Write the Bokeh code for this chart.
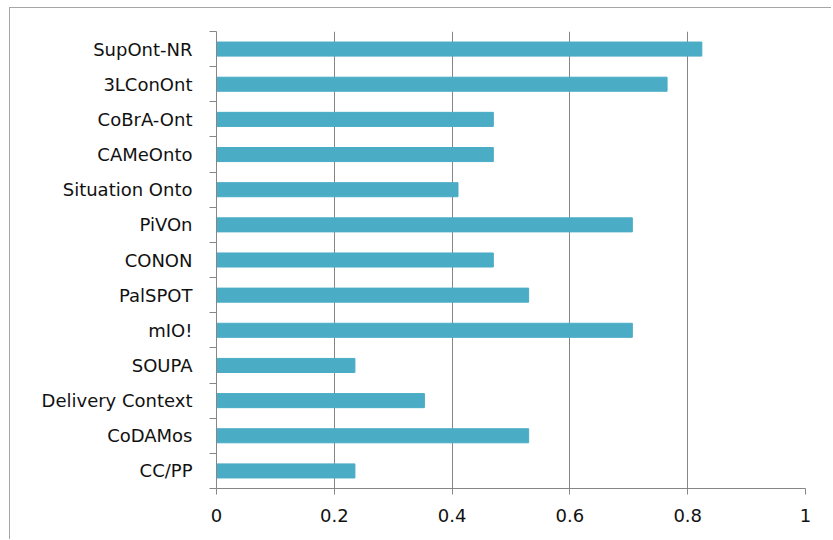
from bokeh.plotting import figure
from bokeh.models import FixedTicker, Range1d
from bokeh.embed import file_html
from bokeh.resources import INLINE

# Data (bottom to top)
categories = ["CC/PP", "CoDAMos", "Delivery Context", "SOUPA", "mIO!", "PalSPOT",
              "CONON", "PiVOn", "Situation Onto", "CAMeOnto", "CoBrA-Ont",
              "3LConOnt", "SupOnt-NR"]
values = [0.235, 0.53, 0.353, 0.235, 0.706, 0.53, 0.47, 0.706, 0.41, 0.47, 0.47, 0.765, 0.824]
x_ticks = [0, 0.2, 0.4, 0.6, 0.8, 1]
x_tick_labels = ["0", "0.2", "0.4", "0.6", "0.8", "1"]

FONT = "DejaVu Sans"
GRAY = "#868686"

positions = list(range(len(categories)))

p = figure(width=822, height=532, output_backend="svg", toolbar_location=None,
           x_range=Range1d(0, 1), y_range=Range1d(-0.5, len(categories) - 0.5),
           min_border_left=206, min_border_right=27, min_border_top=23, min_border_bottom=52)
p.styles = {"border-left": "1px solid #a6a6a6", "border-top": "1px solid #a6a6a6",
            "margin-left": "9px", "margin-top": "7px"}
p.outline_line_color = None

p.hbar(y=positions, right=values, left=0, height=0.4, color="#4BACC6")

# x axis
p.xaxis.ticker = FixedTicker(ticks=x_ticks)
p.xaxis.major_label_overrides = {t: l for t, l in zip(x_ticks, x_tick_labels)}
p.xaxis.axis_line_color = GRAY
p.xaxis.major_tick_line_color = GRAY
p.xaxis.major_tick_out = 6
p.xaxis.major_tick_in = 0
p.xaxis.minor_tick_line_color = None
p.xaxis.major_label_standoff = 14
p.xaxis.major_label_text_font = FONT
p.xaxis.major_label_text_font_size = "18px"
p.xaxis.major_label_text_color = "#111111"

# y axis: labels at centers, ticks between categories
p.yaxis.ticker = FixedTicker(ticks=positions,
                             minor_ticks=[i - 0.5 for i in range(len(categories) + 1)])
p.yaxis.major_label_overrides = {i: c for i, c in zip(positions, categories)}
p.yaxis.axis_line_color = GRAY
p.yaxis.major_tick_line_color = None
p.yaxis.major_tick_out = 0
p.yaxis.major_tick_in = 0
p.yaxis.minor_tick_line_color = GRAY
p.yaxis.minor_tick_out = 7
p.yaxis.minor_tick_in = 0
p.yaxis.major_label_standoff = 17
p.yaxis.major_label_text_font = FONT
p.yaxis.major_label_text_font_size = "18px"
p.yaxis.major_label_text_color = "#111111"

p.xgrid.ticker = FixedTicker(ticks=x_ticks[1:])
p.xgrid.grid_line_color = GRAY
p.ygrid.grid_line_color = None

open("out.html", "w").write(file_html(p, INLINE))
